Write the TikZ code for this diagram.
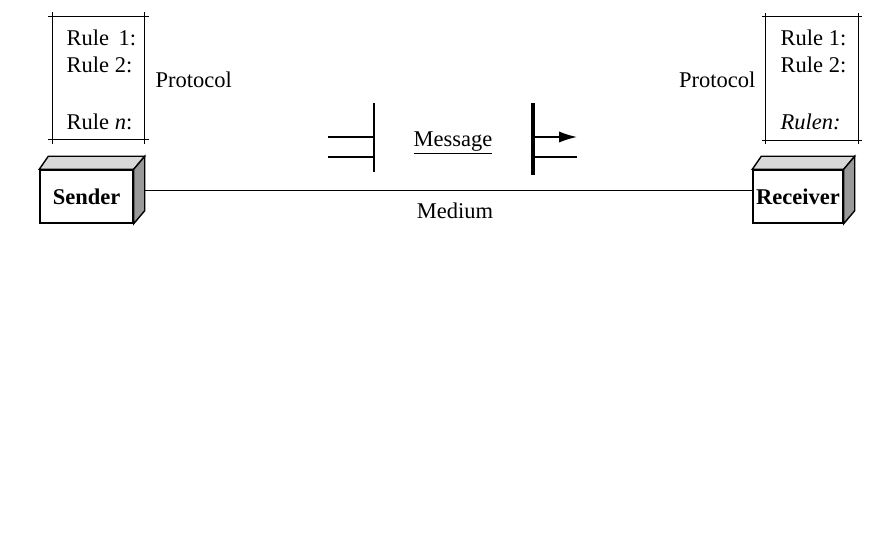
\documentclass[tikz,border=0pt]{standalone}
\usepackage{fontspec}
\setmainfont{Liberation Serif}
\usetikzlibrary{positioning}
\usetikzlibrary{arrows.meta}

\tikzset{
  txt/.style = {inner sep=0pt, font=\fontsize{16}{19}\selectfont},
  station/.style = {draw, fill=white, inner sep=0pt, minimum height=1.325cm,
                    font=\fontsize{16}{19}\selectfont\bfseries},
  rulebox/.style = {minimum width=2.275cm, minimum height=3.05cm, inner sep=0pt},
  boxline/.style = {shorten <=-1mm, shorten >=-1mm},
  topface/.style = {draw, fill=gray!30},
  sideface/.style = {draw, fill=gray!80}
}

\begin{document}
\begin{tikzpicture}[x=0.025cm, y=-0.025cm, line width=1pt]
      \useasboundingbox (0,0) rectangle (882,540);

      % protocol boxes
      \node[rulebox] (lrules) at (98.5,78) {};
      \node[rulebox] (rrules) at (812,78.5) {};
      \foreach \b in {lrules,rrules} {
          \draw[boxline] (\b.north west) -- (\b.north east);
          \draw[boxline] (\b.south west) -- (\b.south east);
          \draw[boxline] (\b.north west) -- (\b.south west);
          \draw[boxline] (\b.north east) -- (\b.south east);
        }

      \node[txt, anchor=west] (lr1) at (66,38) {Rule\, 1:};
      \node[txt, anchor=west] (lr2) at (66,65) {Rule 2:};
      \node[txt, anchor=west] (lrn) at (66,122) {Rule \textit{n}:};
      \node[txt, anchor=west] (lproto) at (155,80) {Protocol};

      \node[txt, anchor=west] (rr1) at (780,38) {Rule 1:};
      \node[txt, anchor=west] (rr2) at (780,65) {Rule 2:};
      \node[txt, anchor=west] (rrn) at (780,122) {\textit{Rulen:}};
      \node[txt, anchor=east] (rproto) at (756,80) {Protocol};

      % stations
      \node[station, minimum width=2.325cm] (sender) at (86.5,196.5) {Sender};
      \node[station, minimum width=2.25cm] (receiver) at (798,196.5) {Receiver};
      \foreach \s in {sender,receiver} {
          \draw[topface] (\s.north west) -- ++(9,-13) -- ([shift={(11,-13)}]\s.north east) -- (\s.north east) -- cycle;
          \draw[sideface] (\s.north east) -- ++(11,-13) -- ([shift={(11,-13)}]\s.south east) -- (\s.south east) -- cycle;
        }

      % medium
      \draw ([shift={(11,-6)}]sender.east) -- ([shift={(0,-6)}]receiver.west);
      \node[txt] (medium) at (455,211) {Medium};

      % message
      \node[txt] (msg) at (453,143) {\underline{Message}};
      \draw (374,103) -- (374,172);
      \draw (328,137) -- (374,137);
      \draw (328,157) -- (374,157);
      \draw[line width=3.5pt] (533,103) -- (533,175);
      \draw[-{Latex[length=4.5mm, width=2.8mm]}] (533,137) -- (577,137);
      \draw (533,157) -- (577,157);

    \end{tikzpicture}
\end{document}
